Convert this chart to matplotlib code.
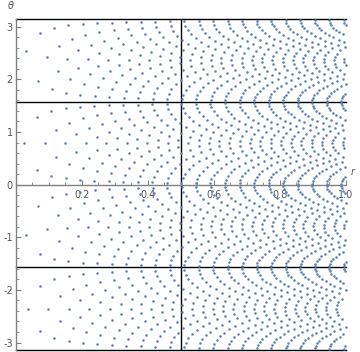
import numpy as np
import matplotlib
matplotlib.use("Agg")
import matplotlib.pyplot as plt
from matplotlib.ticker import MultipleLocator

plt.rcParams["axes.unicode_minus"] = False

# Cartesian grid coordinates (same for x and y)
grid_vals = [-0.994, -0.950, -0.906, -0.862, -0.818, -0.774, -0.730, -0.686,
             -0.642, -0.598, -0.554, -0.510, -0.466, -0.422, -0.378, -0.334,
             -0.290, -0.246, -0.202, -0.158, -0.114, -0.070, -0.026, 0.018,
             0.062, 0.106, 0.150, 0.194, 0.238, 0.282, 0.326, 0.370,
             0.414, 0.458, 0.502, 0.546, 0.590, 0.634, 0.678, 0.722,
             0.766, 0.810, 0.854, 0.898, 0.942, 0.986]

# reference lines
r_lines = [0.5]
theta_lines = [np.pi / 2, -np.pi / 2, np.pi, -np.pi]

x_ticks = [0.2, 0.4, 0.6, 0.8, 1.0]
y_ticks = [-3, -2, -1, 0, 1, 2, 3]

# grid points inside the unit disk -> polar coords
gx, gy = np.meshgrid(grid_vals, grid_vals)
gx, gy = gx.ravel(), gy.ravel()
inside = gx**2 + gy**2 <= 1.0
r = np.hypot(gx[inside], gy[inside])
theta = np.arctan2(gy[inside], gx[inside])

fig = plt.figure(figsize=(3.6, 3.52), dpi=100)
ax = fig.add_axes([15.7 / 360, 2 / 352, 330 / 360, 330.7 / 352])

for rv in r_lines:
    ax.axvline(rv, color="black", lw=1.0, zorder=1)
for tv in theta_lines:
    ax.axhline(tv, color="black", lw=1.0, zorder=1, clip_on=False)

ax.scatter(r, theta, s=3.4, color="#5E81B5", marker="o", linewidths=0,
           zorder=2, clip_on=False)

ax.set_xlim(0, 1)
ax.set_ylim(-np.pi, np.pi)

gray = "#808080"
ax.spines["top"].set_visible(False)
ax.spines["right"].set_visible(False)
ax.spines["bottom"].set_position(("data", 0))
ax.spines["left"].set_position(("data", 0))
for s in ["bottom", "left"]:
    ax.spines[s].set_color(gray)
    ax.spines[s].set_linewidth(1.0)

ax.set_xticks(x_ticks)
ax.set_xticklabels([f"{v:.1f}" for v in x_ticks])
ax.set_yticks(y_ticks)
ax.xaxis.set_minor_locator(MultipleLocator(0.05))
ax.yaxis.set_minor_locator(MultipleLocator(0.2))
ax.tick_params(which="major", direction="in", length=3.5, width=0.8,
               color=gray, labelcolor="#555555", labelsize=7)
ax.tick_params(which="minor", direction="in", length=2, width=0.6, color=gray)
ax.tick_params(axis="x", pad=4)
ax.tick_params(axis="y", pad=2)

ax.text(1.02, 0.15, "r", fontsize=7, style="italic", color="#555555",
        ha="center", va="bottom", clip_on=False)
ax.text(-0.005, 3.3, "θ", fontsize=7, style="italic", color="#555555",
        ha="right", va="bottom", clip_on=False)

fig.savefig("out.png", dpi=100)
